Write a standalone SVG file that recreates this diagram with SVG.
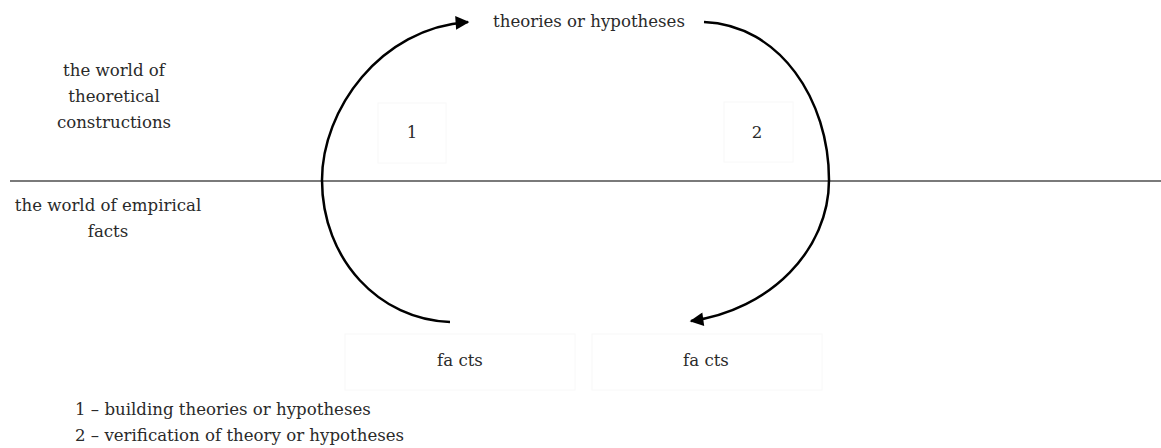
<svg xmlns="http://www.w3.org/2000/svg" width="1161" height="448" viewBox="0 0 1161 448">
<style>
text{fill:#2a2a2a;font-size:16.6px}
.c{text-anchor:middle}
.faint{fill:none;stroke:#f8f8f8;stroke-width:1}
.arc{fill:none;stroke:#000;stroke-width:2.5}
</style>
<defs>
<marker id="ah" viewBox="0 0 10 10" refX="9" refY="5" markerWidth="6" markerHeight="5.5" markerUnits="strokeWidth" orient="auto">
<path d="M0,0 L10,5 L0,10 z" fill="#000"/>
</marker>
</defs>
<rect width="1161" height="448" fill="#fff"/>
<line x1="10" y1="181" x2="1161" y2="181" stroke="#7a7a7a" stroke-width="2"/>
<g font-family="DejaVu Serif, Liberation Serif, serif">
<g id="theoretical-world"><text class="c" x="114" y="76">the world of</text><text class="c" x="114" y="102">theoretical</text><text class="c" x="114" y="128">constructions</text></g>
<g id="empirical-world"><text class="c" x="108" y="211">the world of empirical</text><text class="c" x="108" y="237">facts</text></g>
<g id="theories"><text class="c" x="589" y="27">theories or hypotheses</text></g>
<g id="label1"><rect class="faint" x="378" y="103" width="68" height="60"/><text class="c" x="412" y="138">1</text></g>
<g id="label2"><rect class="faint" x="724" y="102" width="69" height="60"/><text class="c" x="757" y="138">2</text></g>
<g id="facts1"><rect class="faint" x="345" y="334" width="230" height="56"/><text class="c" x="460" y="366">fa cts</text></g>
<g id="facts2"><rect class="faint" x="592" y="334" width="230" height="56"/><text class="c" x="706" y="366">fa cts</text></g>
<g id="legend"><text x="75" y="415">1 – building theories or hypotheses</text><text x="75" y="441">2 – verification of theory or hypotheses</text></g>
</g>
<g id="connectors">
<path class="arc" d="M450,322 C380,320 322,260 322,180 C322,110 380,28 468,22" marker-end="url(#ah)"/>
<path class="arc" d="M704,22 C780,25 829,100 829,180 C829,250 770,310 691,321" marker-end="url(#ah)"/>
</g>
</svg>
